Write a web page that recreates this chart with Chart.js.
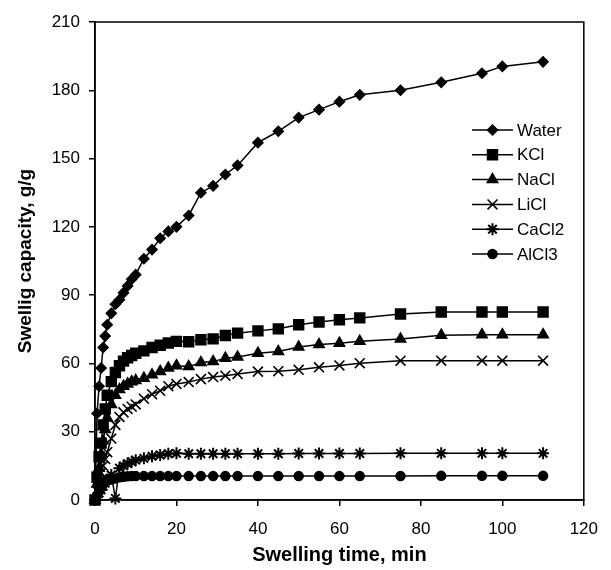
<!DOCTYPE html>
<html>
<head>
<meta charset="utf-8">
<script src="https://cdn.jsdelivr.net/npm/chart.js@4.4.0/dist/chart.umd.min.js"></script>
<style>
  html, body { margin: 0; padding: 0; background: #fff; }
  #wrap { width: 611px; height: 570px; }
</style>
</head>
<body>
<div id="wrap"><canvas id="grafico" width="611" height="570"></canvas></div>
<script>
// swelling time, min
let tempos = [0, 0.5, 1, 1.5, 2, 2.5, 3, 4, 5, 6, 7, 8, 9, 10, 12, 14, 16, 18, 20,
    23, 26, 29, 32, 35, 40, 45, 50, 55, 60, 65, 75, 85, 95, 100, 110];

// swelling capacity, g/g
let water = [0, 38, 50, 58, 67, 72, 77, 82, 86, 88, 91, 94, 97, 99, 106, 110, 115, 118, 120,
    125, 135, 138, 143, 147, 157, 162, 168, 171.5, 175, 178, 180, 183.5, 187.5, 190.5, 192.5];
let kcl = [0, 10, 19, 25, 33, 40, 46, 52, 56, 59, 61, 62.5, 63.5, 64.5, 65.5, 67, 68, 69, 69.7,
    69.5, 70.4, 70.8, 72.3, 73.3, 74.3, 75.2, 77, 78.2, 79.2, 80, 81.7, 82.6, 82.6, 82.6, 82.6];
let nacl = [0, 7, 14, 20, 26, 31, 36, 42, 46, 48.5, 50, 51, 52, 52.5, 53.5, 55, 56.5, 58, 59,
    58.6, 60.4, 60.8, 62.3, 62.8, 64.5, 65.2, 67.2, 68.3, 68.9, 69.7, 70.7, 72.4, 72.6, 72.6, 72.6];
let licl = [0, 4, 8, 12, 15, 18, 21, 27, 33, 36.5, 38.5, 40, 41, 42, 44.5, 46.5, 48, 50, 51,
    51.8, 53.1, 54, 54.6, 55.4, 56.4, 56.6, 57.2, 58.3, 59.1, 60.1, 61.2, 61.2, 61.2, 61.2, 61.2];
let cacl2 = [0, 1.5, 3, 4.5, 6, 7.5, 9, 11, 0.7, 14, 15, 16, 16.8, 17.5, 18.3, 19.2, 19.8, 20.3, 20.5,
    20.3, 20.3, 20.3, 20.3, 20.3, 20.3, 20.3, 20.4, 20.4, 20.4, 20.4, 20.5, 20.5, 20.5, 20.5, 20.5];
let alcl3 = [0, 2, 4, 5.5, 7, 8, 8.5, 9, 9.5, 10, 10.2, 10.4, 10.5, 10.5, 10.5, 10.5, 10.5, 10.5, 10.5,
    10.5, 10.5, 10.5, 10.5, 10.5, 10.5, 10.5, 10.5, 10.5, 10.5, 10.5, 10.5, 10.6, 10.6, 10.6, 10.6];

let nomes = ['Water', 'KCl', 'NaCl', 'LiCl', 'CaCl2', 'AlCl3'];
let marcadores = ['rectRot', 'rect', 'triangle', 'crossRot', 'star', 'circle'];
let raios = [5, 7, 6, 7, 6, 4.5];
let espessuras = [1.5, 1.5, 1.5, 1.6, 2, 1.5];

let eixoXTicks = [0, 20, 40, 60, 80, 100, 120];
let eixoYTicks = [0, 30, 60, 90, 120, 150, 180, 210];

function serie(valores) {
    return valores.map(function (v, i) { return { x: tempos[i], y: v }; });
}

let todas = [water, kcl, nacl, licl, cacl2, alcl3];
let datasets = todas.map(function (valores, i) {
    return {
        label: nomes[i],
        data: serie(valores),
        borderColor: '#000',
        backgroundColor: '#000',
        borderWidth: 1.5,
        pointStyle: marcadores[i],
        pointRadius: raios[i],
        pointHoverRadius: raios[i],
        pointBackgroundColor: '#000',
        pointBorderColor: '#000',
        pointBorderWidth: espessuras[i],
        tension: 0,
        clip: 10
    };
});

// box around the plot + legend with line and marker
let moldura = {
    id: 'moldura',
    afterDatasetsDraw: function (chart) {
        let ctx = chart.ctx;
        let a = chart.chartArea;
        ctx.save();
        ctx.strokeStyle = '#000';
        ctx.lineWidth = 1.5;
        ctx.strokeRect(a.left, a.top, a.right - a.left, a.bottom - a.top);

        let x0 = 472, y0 = 130, passo = 24.8;
        ctx.font = '17px "Liberation Sans", Arial, sans-serif';
        ctx.textBaseline = 'middle';
        ctx.fillStyle = '#000';
        chart.data.datasets.forEach(function (ds, i) {
            let y = y0 + i * passo;
            ctx.beginPath();
            ctx.lineWidth = 1.5;
            ctx.moveTo(x0, y);
            ctx.lineTo(x0 + 41, y);
            ctx.stroke();
            ctx.lineWidth = ds.pointBorderWidth;
            Chart.helpers.drawPoint(ctx, {
                pointStyle: ds.pointStyle,
                radius: ds.pointRadius,
                rotation: 0,
                borderWidth: ds.pointBorderWidth
            }, x0 + 20.5, y);
            ctx.fillText(ds.label, x0 + 45, y + 1);
        });
        ctx.restore();
    }
};

let ctx = document.getElementById('grafico').getContext('2d');

let chart = new Chart(ctx, {
    type: 'line',
    data: { datasets: datasets },
    options: {
        responsive: false,
        animation: false,
        layout: { padding: { left: 0, top: 22, right: 17, bottom: 0 } },
        plugins: {
            legend: { display: false },
            tooltip: { enabled: false }
        },
        scales: {
            x: {
                type: 'linear',
                min: 0,
                max: 120,
                afterBuildTicks: function (s) { s.ticks = eixoXTicks.map(function (v) { return { value: v }; }); },
                afterFit: function (s) { s.height = 70; },
                grid: { drawOnChartArea: false, drawTicks: true, tickLength: 6, color: '#000', lineWidth: 1.5 },
                border: { display: true, color: '#000', width: 1.5 },
                ticks: {
                    color: '#000',
                    padding: 13,
                    maxRotation: 0,
                    font: { family: '"Liberation Sans", Arial, sans-serif', size: 17 }
                },
                title: {
                    display: true,
                    text: 'Swelling time, min',
                    color: '#000',
                    padding: { top: 0, bottom: 3 },
                    font: { family: '"Liberation Sans", Arial, sans-serif', size: 20, weight: 'bold' }
                }
            },
            y: {
                type: 'linear',
                min: 0,
                max: 210,
                afterBuildTicks: function (s) { s.ticks = eixoYTicks.map(function (v) { return { value: v }; }); },
                afterFit: function (s) { s.width = 95; },
                grid: { drawOnChartArea: false, drawTicks: true, tickLength: 6, color: '#000', lineWidth: 1.5 },
                border: { display: true, color: '#000', width: 1.5 },
                ticks: {
                    color: '#000',
                    padding: 9,
                    font: { family: '"Liberation Sans", Arial, sans-serif', size: 17 }
                },
                title: {
                    display: true,
                    text: 'Swellig capacity, g/g',
                    color: '#000',
                    padding: { top: 14, bottom: 0 },
                    font: { family: '"Liberation Sans", Arial, sans-serif', size: 19, weight: 'bold' }
                }
            }
        }
    },
    plugins: [moldura]
});
</script>
</body>
</html>
